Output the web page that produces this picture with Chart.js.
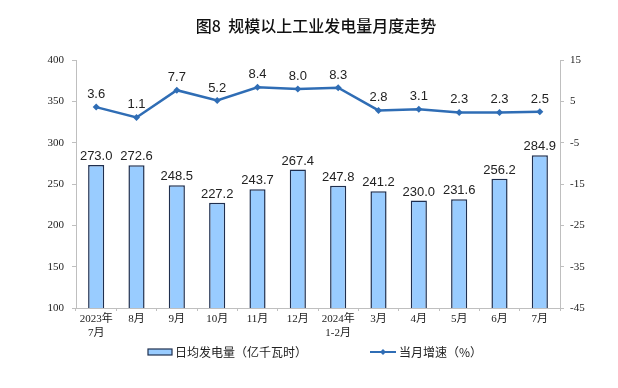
<!DOCTYPE html>
<html>
<head>
<meta charset="utf-8">
<script src="https://cdn.jsdelivr.net/npm/chart.js@4"></script>
<style>
  html, body { margin: 0; padding: 0; background: #fff; }
  #wrap { width: 618px; height: 388px; }
</style>
</head>
<body>
<div id="wrap"><canvas id="chart" width="618" height="388"></canvas></div>
<script>
// 数据
const categories = [["2023年", "7月"], "8月", "9月", "10月", "11月", "12月", ["2024年", "1-2月"], "3月", "4月", "5月", "6月", "7月"];
const dailyOutput = [273.0, 272.6, 248.5, 227.2, 243.7, 267.4, 247.8, 241.2, 230.0, 231.6, 256.2, 284.9];
const monthlyGrowth = [3.6, 1.1, 7.7, 5.2, 8.4, 8.0, 8.3, 2.8, 3.1, 2.3, 2.3, 2.5];
const leftTicks = [100, 150, 200, 250, 300, 350, 400];
const rightTicks = [-45, -35, -25, -15, -5, 5, 15];

const titleText = "图8  规模以上工业发电量月度走势";
const barLabel = "日均发电量（亿千瓦时）";
const lineLabel = "当月增速（%）";

const serif = "'Liberation Serif', 'Noto Sans CJK SC', serif";
const sans = "'Liberation Sans', 'Noto Sans CJK SC', sans-serif";
const cjk = "'Noto Sans CJK SC', sans-serif";

const barFill = "#99ccff";
const barBorder = "#1f2f4f";
const lineColor = "#2f6db5";
const axisColor = "#bfbfbf";

// 标题、数据标签、图例
const extras = {
  id: "extras",
  afterDatasetsDraw(chart) {
    const ctx = chart.ctx;
    ctx.save();
    ctx.fillStyle = "#222";
    ctx.textAlign = "center";
    ctx.textBaseline = "alphabetic";
    ctx.font = "13px " + sans;
    chart.getDatasetMeta(0).data.forEach((el, i) => {
      ctx.fillText(dailyOutput[i].toFixed(1), el.x, el.y - 5);
    });
    chart.getDatasetMeta(1).data.forEach((el, i) => {
      ctx.fillText(monthlyGrowth[i].toFixed(1), el.x, el.y - 9);
    });

    // 标题
    ctx.font = "500 16px " + cjk;
    ctx.fillStyle = "#111";
    ctx.fillText(titleText, 316, 32);

    // 图例
    ctx.textAlign = "left";
    ctx.textBaseline = "middle";
    ctx.font = "12px " + cjk;
    ctx.fillStyle = barFill;
    ctx.fillRect(148, 349, 24, 6);
    ctx.strokeStyle = barBorder;
    ctx.lineWidth = 1.2;
    ctx.strokeRect(148, 349, 24, 6);
    ctx.fillStyle = "#222";
    ctx.fillText(barLabel, 175, 352);

    ctx.strokeStyle = lineColor;
    ctx.lineWidth = 2;
    ctx.beginPath();
    ctx.moveTo(370, 352);
    ctx.lineTo(396, 352);
    ctx.stroke();
    ctx.fillStyle = lineColor;
    ctx.beginPath();
    ctx.moveTo(383, 349);
    ctx.lineTo(386, 352);
    ctx.lineTo(383, 355);
    ctx.lineTo(380, 352);
    ctx.closePath();
    ctx.fill();
    ctx.fillStyle = "#222";
    ctx.fillText(lineLabel, 399, 352);
    ctx.restore();
  }
};

const ctx = document.getElementById("chart").getContext("2d");
new Chart(ctx, {
  data: {
    labels: categories,
    datasets: [
      {
        type: "bar",
        label: barLabel,
        data: dailyOutput,
        yAxisID: "y",
        backgroundColor: barFill,
        borderColor: barBorder,
        borderWidth: 1.5,
        barPercentage: 0.4,
        categoryPercentage: 1,
        order: 2
      },
      {
        type: "line",
        label: lineLabel,
        data: monthlyGrowth,
        yAxisID: "y1",
        borderColor: lineColor,
        backgroundColor: lineColor,
        borderWidth: 2.5,
        pointStyle: "rectRot",
        pointRadius: 3.5,
        pointBorderWidth: 0,
        tension: 0,
        order: 1
      }
    ]
  },
  options: {
    responsive: false,
    animation: false,
    layout: { padding: { top: 60, left: 0, right: 0, bottom: 0 } },
    plugins: {
      legend: { display: false },
      title: { display: false },
      tooltip: { enabled: false }
    },
    scales: {
      x: {
        offset: true,
        grid: { display: true, drawOnChartArea: false, offset: true, tickLength: 3, color: axisColor },
        border: { color: axisColor },
        ticks: { color: "#222", font: { family: serif, size: 11 }, maxRotation: 0, autoSkip: false, padding: 2 },
        afterFit(scale) { scale.height = 80; }
      },
      y: {
        position: "left",
        min: 100,
        max: 400,
        afterBuildTicks(scale) { scale.ticks = leftTicks.map(v => ({ value: v })); },
        grid: { drawOnChartArea: false, tickLength: 4, color: axisColor },
        border: { color: axisColor },
        ticks: { color: "#222", font: { family: serif, size: 11 }, padding: 8 },
        afterFit(scale) { scale.width = 76; }
      },
      y1: {
        position: "right",
        min: -45,
        max: 15,
        afterBuildTicks(scale) { scale.ticks = rightTicks.map(v => ({ value: v })); },
        grid: { drawOnChartArea: false, tickLength: 4, color: axisColor },
        border: { color: axisColor },
        ticks: { color: "#222", font: { family: serif, size: 11 }, padding: 6 },
        afterFit(scale) { scale.width = 58; }
      }
    }
  },
  plugins: [extras]
});
</script>
</body>
</html>
